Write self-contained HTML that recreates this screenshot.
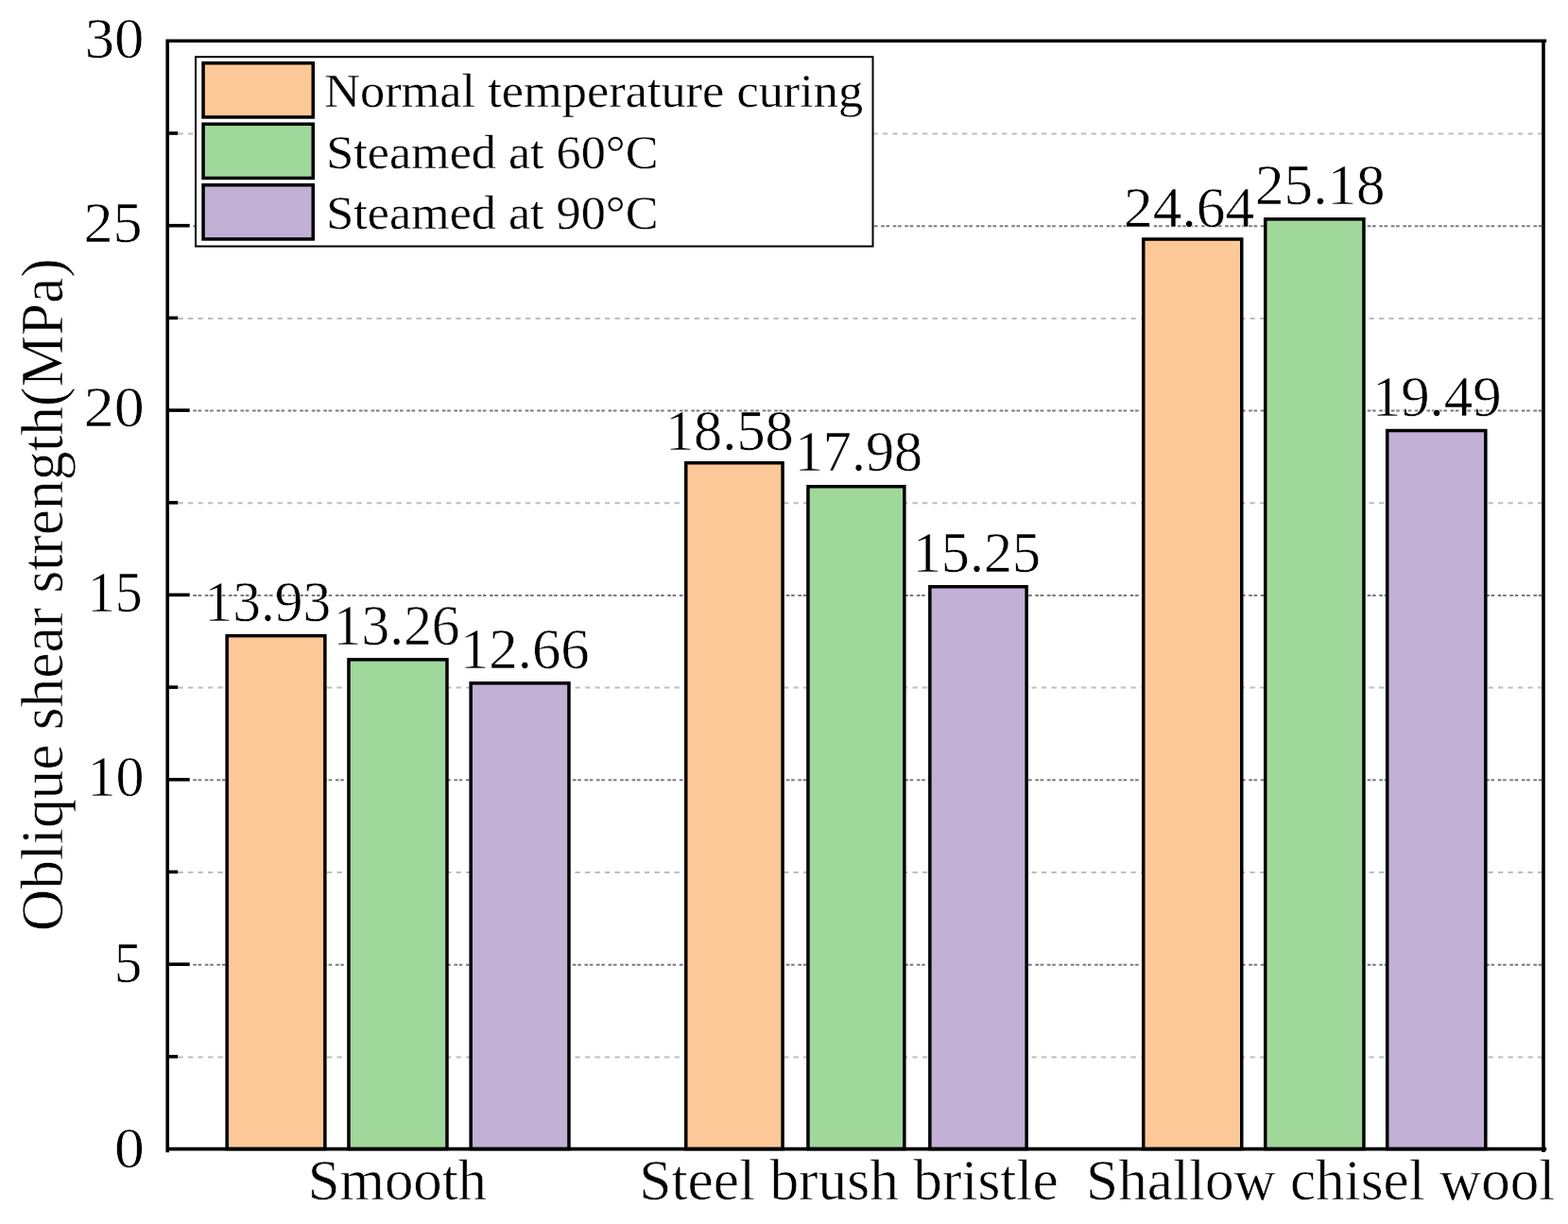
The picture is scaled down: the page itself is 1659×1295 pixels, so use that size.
<!DOCTYPE html>
<html lang="en"><head><meta charset="utf-8"><title>Oblique shear strength</title>
<style>html,body{margin:0;padding:0;background:#fff}body{width:1659px;height:1295px;overflow:hidden}svg{display:block}text{font-family:"Liberation Serif",serif;fill:#000;stroke:#fff;stroke-linejoin:round}text.b{stroke-width:.6px}text.s{stroke-width:.3px}</style></head><body>
<svg width="1659" height="1295" viewBox="0 0 1659 1295">
<rect width="1659" height="1295" fill="#fff"/>
<g fill="none" stroke-width="2">
<line x1="188.5" x2="1631" y1="1118.4" y2="1118.4" stroke="#bdbdbd" stroke-dasharray="5.3 5.2"/>
<line x1="204.3" x2="1631" y1="1020.7" y2="1020.7" stroke="#7a7a7a" stroke-dasharray="3.6 1.7 3.6 3.65"/>
<line x1="188.5" x2="1631" y1="923.0" y2="923.0" stroke="#bdbdbd" stroke-dasharray="5.3 5.2"/>
<line x1="204.3" x2="1631" y1="825.3" y2="825.3" stroke="#7a7a7a" stroke-dasharray="3.6 1.7 3.6 3.65"/>
<line x1="188.5" x2="1631" y1="727.6" y2="727.6" stroke="#bdbdbd" stroke-dasharray="5.3 5.2"/>
<line x1="204.3" x2="1631" y1="629.9" y2="629.9" stroke="#7a7a7a" stroke-dasharray="3.6 1.7 3.6 3.65"/>
<line x1="188.5" x2="1631" y1="532.3" y2="532.3" stroke="#bdbdbd" stroke-dasharray="5.3 5.2"/>
<line x1="204.3" x2="1631" y1="434.6" y2="434.6" stroke="#7a7a7a" stroke-dasharray="3.6 1.7 3.6 3.65"/>
<line x1="188.5" x2="1631" y1="336.9" y2="336.9" stroke="#bdbdbd" stroke-dasharray="5.3 5.2"/>
<line x1="204.3" x2="1631" y1="239.2" y2="239.2" stroke="#7a7a7a" stroke-dasharray="3.6 1.7 3.6 3.65"/>
<line x1="188.5" x2="1631" y1="141.5" y2="141.5" stroke="#bdbdbd" stroke-dasharray="5.3 5.2"/>
</g>
<g stroke="#000" stroke-width="3.5">
<rect x="240.15" y="672.65" width="103.70" height="542.95" fill="#FCC898"/>
<rect x="368.95" y="697.85" width="104.00" height="517.75" fill="#A0D89C"/>
<rect x="498.15" y="722.80" width="103.80" height="492.80" fill="#C2B0D6"/>
<rect x="725.75" y="489.75" width="102.30" height="725.85" fill="#FCC898"/>
<rect x="854.95" y="514.75" width="101.90" height="700.85" fill="#A0D89C"/>
<rect x="983.85" y="620.75" width="102.30" height="594.85" fill="#C2B0D6"/>
<rect x="1209.75" y="253.05" width="104.00" height="962.55" fill="#FCC898"/>
<rect x="1338.75" y="231.85" width="104.20" height="983.75" fill="#A0D89C"/>
<rect x="1467.75" y="455.55" width="104.10" height="760.05" fill="#C2B0D6"/>
</g>
<g stroke="#000" stroke-width="3.6" fill="none">
<path d="M177.2 41.5V1219.2M175.4 1215.6H1636.2M175.4 43.3H1636.2M1633 43.3V1219"/>
<line x1="177.2" x2="188.2" y1="1117.9" y2="1117.9"/>
<line x1="177.2" x2="200.7" y1="1020.2" y2="1020.2"/>
<line x1="177.2" x2="188.2" y1="922.5" y2="922.5"/>
<line x1="177.2" x2="200.7" y1="824.8" y2="824.8"/>
<line x1="177.2" x2="188.2" y1="727.1" y2="727.1"/>
<line x1="177.2" x2="200.7" y1="629.4" y2="629.4"/>
<line x1="177.2" x2="188.2" y1="531.8" y2="531.8"/>
<line x1="177.2" x2="200.7" y1="434.1" y2="434.1"/>
<line x1="177.2" x2="188.2" y1="336.4" y2="336.4"/>
<line x1="177.2" x2="200.7" y1="238.7" y2="238.7"/>
<line x1="177.2" x2="188.2" y1="141.0" y2="141.0"/>
</g>
<rect x="207" y="60.2" width="716.5" height="200.4" fill="#fff" stroke="#000" stroke-width="2"/>
<g stroke="#000" stroke-width="3.5">
<rect x="215.05" y="66.75" width="116.2" height="57.2" fill="#FCC898"/>
<rect x="215.05" y="131.25" width="116.2" height="57.2" fill="#A0D89C"/>
<rect x="215.05" y="195.75" width="116.2" height="57.2" fill="#C2B0D6"/>
</g>
<text id="y30" class="b" x="89.78" y="60.84" font-size="62" textLength="62.69" lengthAdjust="spacingAndGlyphs">30</text>
<text id="y25" class="b" x="88.48" y="256.23" font-size="62" textLength="62.09" lengthAdjust="spacingAndGlyphs">25</text>
<text id="y20" class="b" x="88.74" y="451.27" font-size="62" textLength="63.91" lengthAdjust="spacingAndGlyphs">20</text>
<text id="y15" class="b" x="92.75" y="647.13" font-size="62" textLength="57.77" lengthAdjust="spacingAndGlyphs">15</text>
<text id="y10" class="b" x="92.55" y="842.13" font-size="62" textLength="60.03" lengthAdjust="spacingAndGlyphs">10</text>
<text id="y5" class="b" x="120.78" y="1038.87" font-size="62" textLength="29.56" lengthAdjust="spacingAndGlyphs">5</text>
<text id="y0" class="b" x="121.05" y="1234.53" font-size="62" textLength="31.80" lengthAdjust="spacingAndGlyphs">0</text>
<text id="ylab" class="b" x="66.20" y="985.13" font-size="62.5" textLength="711.86" lengthAdjust="spacingAndGlyphs" transform="rotate(-90 66.20 985.13)">Oblique shear strength(MPa)</text>
<text id="x1" class="b" x="325.80" y="1269.20" font-size="61" textLength="189.20" lengthAdjust="spacingAndGlyphs">Smooth</text>
<text id="x2" class="b" x="676.28" y="1269.20" font-size="61" textLength="443.43" lengthAdjust="spacingAndGlyphs">Steel brush bristle</text>
<text id="x3" class="b" x="1149.11" y="1269.20" font-size="61" textLength="496.23" lengthAdjust="spacingAndGlyphs">Shallow chisel wool</text>
<text id="l1" class="s" x="343.15" y="112.84" font-size="50.5" textLength="570.06" lengthAdjust="spacingAndGlyphs">Normal temperature curing</text>
<text id="l2" class="s" x="345.28" y="177.50" font-size="50.5" textLength="351.17" lengthAdjust="spacingAndGlyphs">Steamed at 60°C</text>
<text id="l3" class="s" x="345.28" y="241.57" font-size="50.5" textLength="351.17" lengthAdjust="spacingAndGlyphs">Steamed at 90°C</text>
<text id="d1" class="b" x="216.61" y="657.20" font-size="62" textLength="133.62" lengthAdjust="spacingAndGlyphs">13.93</text>
<text id="d2" class="b" x="352.86" y="682.13" font-size="62" textLength="133.70" lengthAdjust="spacingAndGlyphs">13.26</text>
<text id="d3" class="b" x="486.95" y="707.20" font-size="62" textLength="136.72" lengthAdjust="spacingAndGlyphs">12.66</text>
<text id="d4" class="b" x="703.95" y="476.47" font-size="62" textLength="135.83" lengthAdjust="spacingAndGlyphs">18.58</text>
<text id="d5" class="b" x="840.73" y="497.53" font-size="62" textLength="135.42" lengthAdjust="spacingAndGlyphs">17.98</text>
<text id="d6" class="b" x="965.73" y="605.47" font-size="62" textLength="135.42" lengthAdjust="spacingAndGlyphs">15.25</text>
<text id="d7" class="b" x="1189.10" y="239.67" font-size="62" textLength="138.13" lengthAdjust="spacingAndGlyphs">24.64</text>
<text id="d8" class="b" x="1328.09" y="216.27" font-size="62" textLength="137.36" lengthAdjust="spacingAndGlyphs">25.18</text>
<text id="d9" class="b" x="1451.72" y="440.27" font-size="62" textLength="136.89" lengthAdjust="spacingAndGlyphs">19.49</text>
</svg></body></html>
